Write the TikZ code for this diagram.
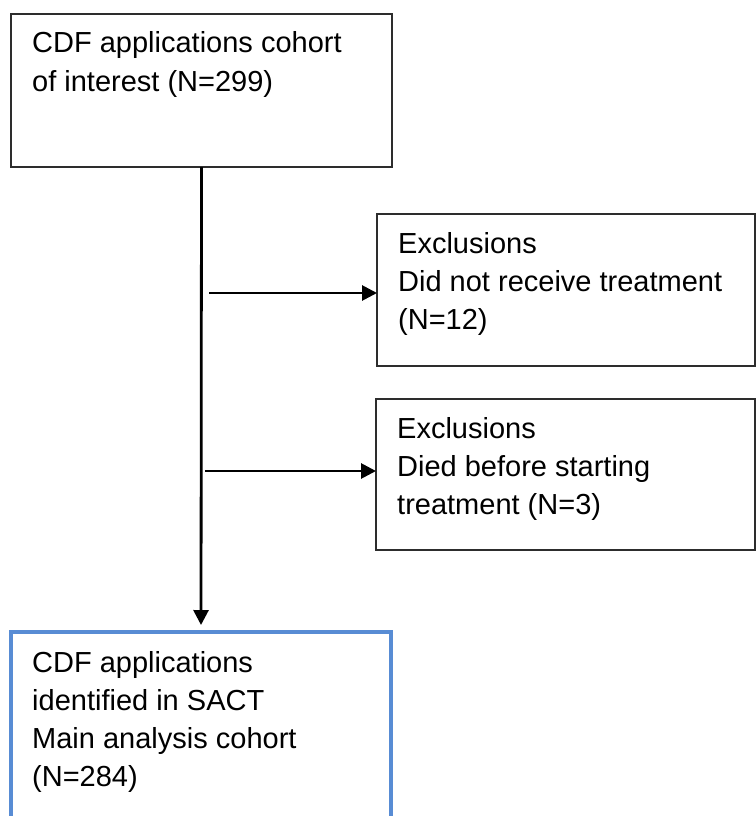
\documentclass[tikz,border=0pt]{standalone}
\usepackage{fontspec}
\setmainfont{Liberation Sans}
\usetikzlibrary{arrows.meta,calc,positioning}
\definecolor{sactblue}{RGB}{88,140,212}
\definecolor{boxgrey}{RGB}{45,45,45}
\tikzset{
  cdfbox/.style={draw=boxgrey,line width=1.5bp,rectangle,inner sep=0pt,outer sep=0pt,anchor=north west},
  cdftext/.style={anchor=base west,align=left,inner sep=0pt,font=\fontsize{29bp}{38bp}\selectfont},
  cdfarrow/.style={line width=2.8bp,-{Triangle[length=15bp,width=15bp]}},
}

\begin{document}
\begin{tikzpicture}[x=1bp,y=-1bp]
  \clip (0,0) rectangle (756,816);
  % --- boxes ---
  \node[cdfbox,minimum width=381bp,minimum height=153bp] (cohort) at (11,14) {};
  \node[cdfbox,minimum width=378bp,minimum height=152bp] (excl1) at (377,214) {};
  \node[cdfbox,minimum width=379bp,minimum height=151bp] (excl2) at (376,399) {};
  \node[cdfbox,draw=sactblue,line width=4bp,minimum width=380bp,minimum height=200bp] (main) at (11,632) {};
  % --- box texts (base = last line, 38bp per line) ---
  \node[cdftext] (cohorttxt) at ($(cohort.north west)+(21,39+38)$) {CDF applications cohort\\of interest (N=299)};
  \node[cdftext] (excl1txt) at ($(excl1.north west)+(21,39+2*38)$) {Exclusions\\Did not receive treatment\\(N=12)};
  \node[cdftext] (excl2txt) at ($(excl2.north west)+(21,39+2*38)$) {Exclusions\\Died before starting\\treatment (N=3)};
  \node[cdftext] (maintxt) at ($(main.north west)+(21,40+3*38)$) {CDF applications\\identified in SACT\\Main analysis cohort\\(N=284)};
  % --- connectors ---
  \coordinate (split1) at (209,293);
  \coordinate (split2) at (205,471);
  \draw[cdfarrow,shorten >=7bp] (cohort.south) -- (main.north);
  \draw[cdfarrow] (split1) -- (split1 -| excl1.west);
  \draw[cdfarrow] (split2) -- (split2 -| excl2.west);
\end{tikzpicture}
\end{document}
